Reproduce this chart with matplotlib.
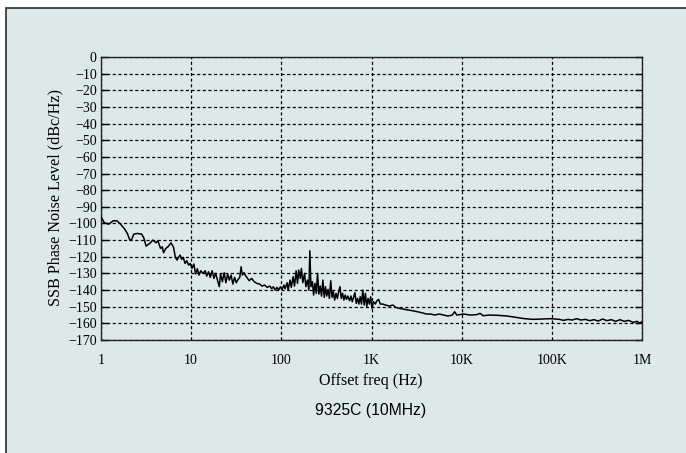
import matplotlib
matplotlib.use("Agg")
import matplotlib.pyplot as plt
from matplotlib.patches import Rectangle
from matplotlib.ticker import FixedLocator, FixedFormatter, NullLocator

freq_hz = [1.0, 1.09, 1.22, 1.37, 1.5, 1.62, 1.81, 1.96, 2.09, 2.19, 2.31, 2.53, 2.83, 3.0, 3.16,
           3.54, 3.74, 4.09, 4.28, 4.57, 4.78, 4.94, 5.23, 5.53, 5.98, 6.38, 6.68, 6.98, 7.30,
           7.56, 7.83, 8.18, 8.55, 8.95, 9.36, 9.78, 10.2, 10.7, 11.2, 11.7, 12.2, 12.8, 13.5,
           14.3, 14.9, 15.6, 16.3, 17.1, 17.9, 18.7, 19.6, 20.5, 21.2, 22.2, 23.2, 24.3, 25.4,
           26.5, 27.7, 29.0, 30.3, 31.7, 33.1, 34.6, 35.8, 37.0, 38.6, 40.4, 42.2, 44.1, 46.9,
           50.1, 53.5, 57.6, 61.0, 65.2, 69.8, 74.6, 78.1, 81.6, 85.4, 89.3, 93.4, 97.6, 102,
           107, 110, 116, 119, 125, 129, 135, 140, 146, 151, 156, 162, 167, 173, 181, 187, 195,
           202, 207, 213, 221, 228, 236, 244, 252, 261, 270, 279, 289, 299, 309, 319, 330, 341,
           353, 365, 377, 390, 404, 418, 432, 447, 462, 478, 494, 511, 528, 546, 572, 592, 612,
           633, 655, 677, 700, 724, 749, 774, 801, 828, 856, 885, 915, 947, 979, 1012, 1050,
           1100, 1150, 1200, 1250, 1330, 1430, 1580, 1730, 1850, 2040, 2320, 2570, 2850, 3210,
           3610, 4060, 4560, 5010, 5630, 6290, 7050, 7880, 8350, 8820, 10500, 12400, 14600,
           16000, 17300, 20500, 25600, 32000, 40000, 50000, 62000, 78000, 97000,
           121000, 135000, 151000, 168000, 188000, 210000, 235000, 262000, 293000, 327000,
           366000, 408000, 456000, 510000, 569000, 636000, 710000, 793000, 885000, 940000,
           1000000]

noise_dbc = [-96, -99.6, -100.4, -98.4, -98.4, -100, -103, -106, -110, -109.6, -106.4, -106, -106.4,
             -109, -113.6, -111.6, -110, -111.6, -110.4, -115, -114, -117.6, -115, -114, -111.6,
             -114.4, -120.4, -122, -120, -119, -121.6, -120.4, -124, -122.4, -125, -124, -127,
             -124.4, -130.4, -127.2, -131, -128.4, -130, -128.4, -131.6, -129, -132.4, -128.4,
             -133, -130, -134, -138, -130.4, -135, -129.6, -135.6, -130.4, -134, -131, -136.4,
             -132.4, -135.6, -133.6, -132.4, -126, -131, -129.6, -131.6, -133, -134.4, -133,
             -135, -136, -136.4, -137.6, -137, -138.4, -137.6, -139.2, -138, -140, -138.4, -140,
             -138, -139.6, -137, -139.2, -135.6, -140, -134, -138.4, -132, -137.6, -128.4, -136,
             -128, -133, -127, -135.6, -130, -138, -134, -140, -116.4, -138, -135, -143, -136,
             -142, -130, -142.4, -137.6, -143.6, -134, -144.4, -138, -143.6, -139.6, -145,
             -134.4, -144.4, -141, -146, -142, -145, -141, -138, -145, -142, -146, -143, -145.6,
             -143.6, -146.4, -143.6, -147, -144.4, -141.6, -148, -145, -148.4, -144, -148.4,
             -140, -149, -142, -150, -145, -148.4, -144, -151, -147, -148.4, -146.4, -145.6,
             -148.4, -148.4, -149, -149.6, -149, -150.4, -151, -151.6, -152, -152.4, -153,
             -153.6, -154.4, -154.4, -155, -154.4, -155, -155.6, -155, -153, -155, -154.4, -155,
             -154.8, -154, -155.4, -155, -155.2, -155.6, -156.4, -157.2, -157.6, -157.4, -157.2,
             -157.6, -158.2, -157.6, -158, -157.2, -158, -157.6, -158.4, -157.8, -158.6,
             -157.4, -158.4, -157.8, -158.8, -157.8, -158.8, -158.2, -159.4, -158.8, -159.8,
             -159]

x_ticks = [1, 10, 100, 1e3, 1e4, 1e5, 1e6]
x_tick_labels = ["1", "10", "100", "1K", "10K", "100K", "1M"]
y_ticks = list(range(0, -171, -10))
y_tick_labels = [str(v).replace("-", "\u2212") for v in y_ticks]

x_label = "Offset freq (Hz)"
y_label = "SSB Phase Noise Level (dBc/Hz)"
caption = "9325C (10MHz)"

W, H = 686, 453
bg = "#dde9e9"
fig = plt.figure(figsize=(W / 100, H / 100), dpi=100)
fig.patch.set_facecolor("white")
fig.patches.append(Rectangle((6 / W, -0.1), 1.2, (H - 8) / H + 0.1, transform=fig.transFigure,
                             facecolor=bg, edgecolor="#3a3a3a", linewidth=1.3, zorder=-10))

ax = fig.add_axes([101 / W, 113 / H, 541 / W, 283 / H])
ax.set_zorder(5)
ax.set_facecolor("none")
ax.plot(freq_hz, noise_dbc, color="black", linewidth=1.1, zorder=3)
ax.set_xscale("log")
ax.set_xlim(1, 1e6)
ax.set_ylim(-170, 0)

serif = ["Liberation Serif", "DejaVu Serif"]
ax.xaxis.set_major_locator(FixedLocator(x_ticks))
ax.xaxis.set_major_formatter(FixedFormatter(x_tick_labels))
ax.xaxis.set_minor_locator(NullLocator())
ax.yaxis.set_major_locator(FixedLocator(y_ticks))
ax.yaxis.set_major_formatter(FixedFormatter(y_tick_labels))
ax.tick_params(axis="y", direction="in", length=5, width=1, left=True, right=True, pad=3)
ax.tick_params(axis="x", direction="in", length=0, pad=10)
for lab in ax.get_xticklabels() + ax.get_yticklabels():
    lab.set_fontfamily(serif)
    lab.set_fontsize(10)

ax.grid(True, color="black", linestyle=(0, (2.5, 2)), linewidth=0.9)
for s in ax.spines.values():
    s.set_linewidth(1.0)
    s.set_color("#222222")

fig.text(371 / W, 1 - 381 / H, x_label, ha="center", va="center", fontfamily=serif, fontsize=11.6,
         zorder=6)
fig.text(55 / W, 1 - 198 / H, y_label, ha="center", va="center", rotation=90,
         fontfamily=serif, fontsize=11.6, zorder=6)
fig.text(371 / W, 1 - 410 / H, caption, ha="center", va="center",
         fontfamily=["Liberation Sans", "DejaVu Sans"], fontsize=11.3, zorder=6)

fig.savefig("out.png", dpi=100, facecolor=fig.get_facecolor())
